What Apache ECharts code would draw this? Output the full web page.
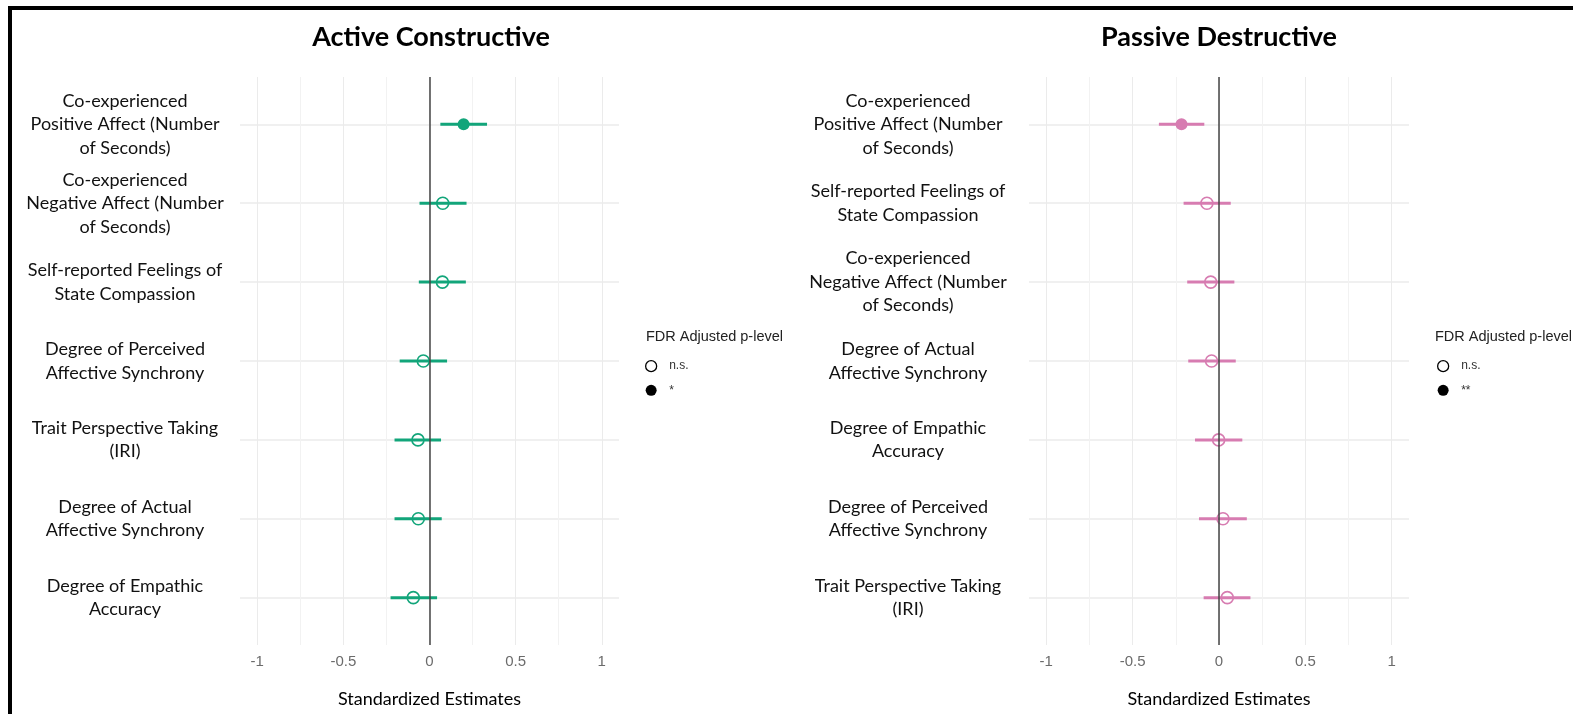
<!DOCTYPE html>
<html>
<head>
<meta charset="utf-8">
<script src="https://cdn.jsdelivr.net/npm/echarts@6/dist/echarts.min.js"></script>
<style>
  html, body { margin: 0; padding: 0; background: #fff; }
  #frame { position: absolute; left: 8px; top: 6px; width: 1565px; height: 708px;
           border-top: 4px solid #000; border-left: 4px solid #000; }
  #chart { position: absolute; left: 0; top: 0; width: 1573px; height: 714px; }
</style>
</head>
<body>
<div id="frame"></div>
<div id="chart"></div>
<script>
// 左图：Active Constructive
var acLabels = [
  "Co-experienced\nPositive Affect (Number\nof Seconds)",
  "Co-experienced\nNegative Affect (Number\nof Seconds)",
  "Self-reported Feelings of\nState Compassion",
  "Degree of Perceived\nAffective Synchrony",
  "Trait Perspective Taking\n(IRI)",
  "Degree of Actual\nAffective Synchrony",
  "Degree of Empathic\nAccuracy"
];
var acEst = [0.198, 0.077, 0.075, -0.036, -0.067, -0.065, -0.094];
var acLow = [0.063, -0.058, -0.062, -0.173, -0.203, -0.203, -0.226];
var acHigh = [0.334, 0.215, 0.211, 0.102, 0.067, 0.071, 0.044];
var acSig = ["*", "n.s.", "n.s.", "n.s.", "n.s.", "n.s.", "n.s."];

// 右图：Passive Destructive
var pdLabels = [
  "Co-experienced\nPositive Affect (Number\nof Seconds)",
  "Self-reported Feelings of\nState Compassion",
  "Co-experienced\nNegative Affect (Number\nof Seconds)",
  "Degree of Actual\nAffective Synchrony",
  "Degree of Empathic\nAccuracy",
  "Degree of Perceived\nAffective Synchrony",
  "Trait Perspective Taking\n(IRI)"
];
var pdEst = [-0.217, -0.070, -0.048, -0.043, -0.002, 0.023, 0.048];
var pdLow = [-0.348, -0.205, -0.184, -0.178, -0.139, -0.116, -0.089];
var pdHigh = [-0.085, 0.068, 0.089, 0.097, 0.135, 0.161, 0.182];
var pdSig = ["**", "n.s.", "n.s.", "n.s.", "n.s.", "n.s.", "n.s."];

var majorTicks = [-1, -0.5, 0, 0.5, 1];
var minorTicks = [-0.75, -0.25, 0.25, 0.75];
var rowTicks = [1, 2, 3, 4, 5, 6, 7];

var GREEN = '#12a57a';
var PINK = '#d77cb1';
var labelFont = 'Lato, "Open Sans", sans-serif';
var arialFont = '"Liberation Sans", Arial, sans-serif';

var myChart = echarts.init(document.getElementById('chart'));

function xAxes(gi) {
  return [{
    gridIndex: gi, type: 'value', min: -1.1, max: 1.1,
    name: 'Standardized Estimates', nameLocation: 'middle', nameGap: 45,
    nameTextStyle: { color: '#000', fontSize: 18, fontFamily: labelFont },
    axisLine: { show: false },
    axisTick: { show: false, customValues: majorTicks },
    axisLabel: { customValues: majorTicks, color: '#6b6b6b', fontSize: 15,
                 fontFamily: arialFont, margin: 9 },
    splitLine: { show: true, lineStyle: { color: '#ebebeb', width: 1 } }
  }, {
    gridIndex: gi, type: 'value', min: -1.1, max: 1.1,
    axisLine: { show: false },
    axisTick: { show: false, customValues: minorTicks },
    axisLabel: { show: false },
    splitLine: { show: true, lineStyle: { color: '#f2f2f2', width: 1 } }
  }];
}

function yAxis(gi, labels, margin) {
  return {
    gridIndex: gi, type: 'value', min: 0.4, max: 7.6, inverse: true,
    axisLine: { show: false },
    axisTick: { show: false, customValues: rowTicks },
    axisLabel: {
      customValues: rowTicks, margin: margin, align: 'center',
      color: '#111', fontSize: 18, lineHeight: 23.5, fontFamily: labelFont,
      formatter: function(v) { return labels[Math.round(v) - 1]; }
    },
    splitLine: { show: true, lineStyle: { color: '#ebebeb', width: 1.5 } }
  };
}

function barData(low, high) {
  return low.map(function(l, i) { return [l, high[i], i + 1]; });
}

function pointData(est, sig, keep) {
  var out = [];
  est.forEach(function(e, i) {
    if ((keep === 'n.s.') === (sig[i] === 'n.s.')) out.push([e, i + 1]);
  });
  return out;
}

function series(gi, low, high, est, sig, color, sigName) {
  var xi = gi * 2;
  return [{
    type: 'custom', xAxisIndex: xi, yAxisIndex: gi, silent: true,
    data: barData(low, high),
    renderItem: function(params, api) {
      var p1 = api.coord([api.value(0), api.value(2)]);
      var p2 = api.coord([api.value(1), api.value(2)]);
      return {
        type: 'line',
        shape: { x1: p1[0], y1: p1[1], x2: p2[0], y2: p2[1] },
        style: { stroke: color, lineWidth: 3 }
      };
    },
    markLine: {
      silent: true, symbol: 'none', label: { show: false },
      lineStyle: { color: '#444', width: 1.5, type: 'solid' },
      data: [{ xAxis: 0 }]
    },
    z: 3
  }, {
    name: 'n.s.', type: 'scatter', xAxisIndex: xi, yAxisIndex: gi,
    data: pointData(est, sig, 'n.s.'), symbol: 'circle', symbolSize: 12,
    itemStyle: { color: 'rgba(255,255,255,0)', borderColor: color, borderWidth: 1.6, opacity: 1 },
    z: 4
  }, {
    name: sigName, type: 'scatter', xAxisIndex: xi, yAxisIndex: gi,
    data: pointData(est, sig, sigName), symbol: 'circle', symbolSize: 12,
    itemStyle: { color: color, opacity: 1 },
    z: 4
  }];
}

function legend(left, sigName) {
  return {
    left: left, top: 355, orient: 'vertical', itemWidth: 26, itemHeight: 11, itemGap: 12,
    selectedMode: false,
    textStyle: { color: '#333', fontSize: 12, fontFamily: arialFont },
    data: [
      { name: 'n.s.', icon: 'circle', itemStyle: { color: '#fff', borderColor: '#000', borderWidth: 1.3 } },
      { name: sigName, icon: 'circle', itemStyle: { color: '#000', borderWidth: 0 } }
    ]
  };
}

var option = {
  animation: false,
  title: [
    { text: 'Active Constructive', left: 426, top: 19, textAlign: 'center',
      textStyle: { fontSize: 27, fontWeight: 'bold', color: '#000', fontFamily: labelFont } },
    { text: 'Passive Destructive', left: 1214, top: 19, textAlign: 'center',
      textStyle: { fontSize: 27, fontWeight: 'bold', color: '#000', fontFamily: labelFont } },
    { text: 'FDR Adjusted p-level', left: 641, top: 324,
      textStyle: { fontSize: 14.5, fontWeight: 'normal', color: '#222', fontFamily: arialFont } },
    { text: 'FDR Adjusted p-level', left: 1430, top: 324,
      textStyle: { fontSize: 14.5, fontWeight: 'normal', color: '#222', fontFamily: arialFont } }
  ],
  legend: [legend(640, '*'), legend(1432, '**')],
  grid: [
    { left: 240, top: 77, width: 379, height: 568 },
    { left: 1029, top: 77, width: 380, height: 568 }
  ],
  xAxis: xAxes(0).concat(xAxes(1)),
  yAxis: [yAxis(0, acLabels, 115), yAxis(1, pdLabels, 121)],
  series: series(0, acLow, acHigh, acEst, acSig, GREEN, '*')
    .concat(series(1, pdLow, pdHigh, pdEst, pdSig, PINK, '**'))
};

myChart.setOption(option);
</script>
</body>
</html>
